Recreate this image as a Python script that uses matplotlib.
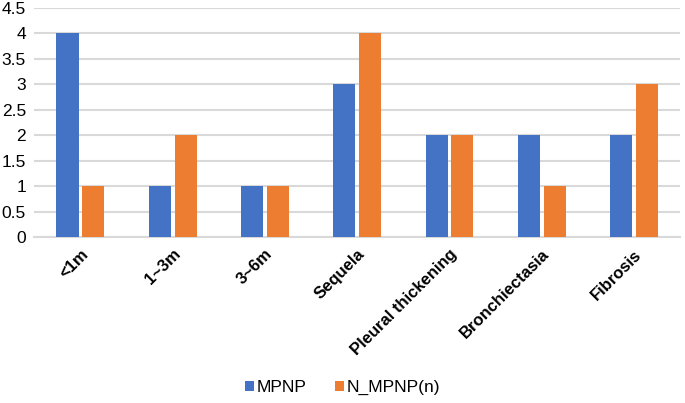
import numpy as np
import matplotlib.pyplot as plt

categories = ["<1m", "1~3m", "3~6m", "Sequela", "Pleural thickening", "Bronchiectasia", "Fibrosis"]
mpnp = [4, 1, 1, 3, 2, 2, 2]
n_mpnp = [1, 2, 1, 4, 2, 1, 3]

BLUE = "#4472C4"
ORANGE = "#ED7D31"

plt.rcParams["font.family"] = ["Liberation Sans", "DejaVu Sans"]

fig = plt.figure(figsize=(6.85, 4.03), dpi=100)
ax = fig.add_axes([0.05, 0.412, 0.943, 0.568])

x = np.arange(len(categories))
w = 0.24
gap = 0.02
ax.bar(x - w / 2 - gap, mpnp, width=w, color=BLUE, label="MPNP", zorder=3)
ax.bar(x + w / 2 + gap, n_mpnp, width=w, color=ORANGE, label="N_MPNP(n)", zorder=3)

ax.set_xlim(-0.5, len(categories) - 0.5)
ax.set_ylim(0, 4.5)
ax.set_yticks(np.arange(0, 4.51, 0.5))
ax.set_yticklabels([f"{v:g}" for v in np.arange(0, 4.51, 0.5)], fontsize=12.5)
ax.yaxis.grid(True, color="#d9d9d9", linewidth=1.5, zorder=0)
ax.set_axisbelow(True)
ax.tick_params(axis="both", length=0)
ax.tick_params(axis="y", pad=6)
for s in ["top", "right", "left"]:
    ax.spines[s].set_visible(False)
ax.spines["bottom"].set_color("#d9d9d9")
ax.spines["bottom"].set_linewidth(1.5)

ax.set_xticks(x)
ax.set_xticklabels(categories, rotation=45, ha="right", rotation_mode="anchor",
                   fontsize=12, fontweight="bold")
ax.tick_params(axis="x", pad=7)

fig.legend(loc="lower center", bbox_to_anchor=(0.5, -0.02), ncol=2, frameon=False,
           fontsize=12.5, handlelength=0.55, handleheight=0.55, handletextpad=0.15,
           columnspacing=1.6)

fig.savefig("out.png", dpi=100)
